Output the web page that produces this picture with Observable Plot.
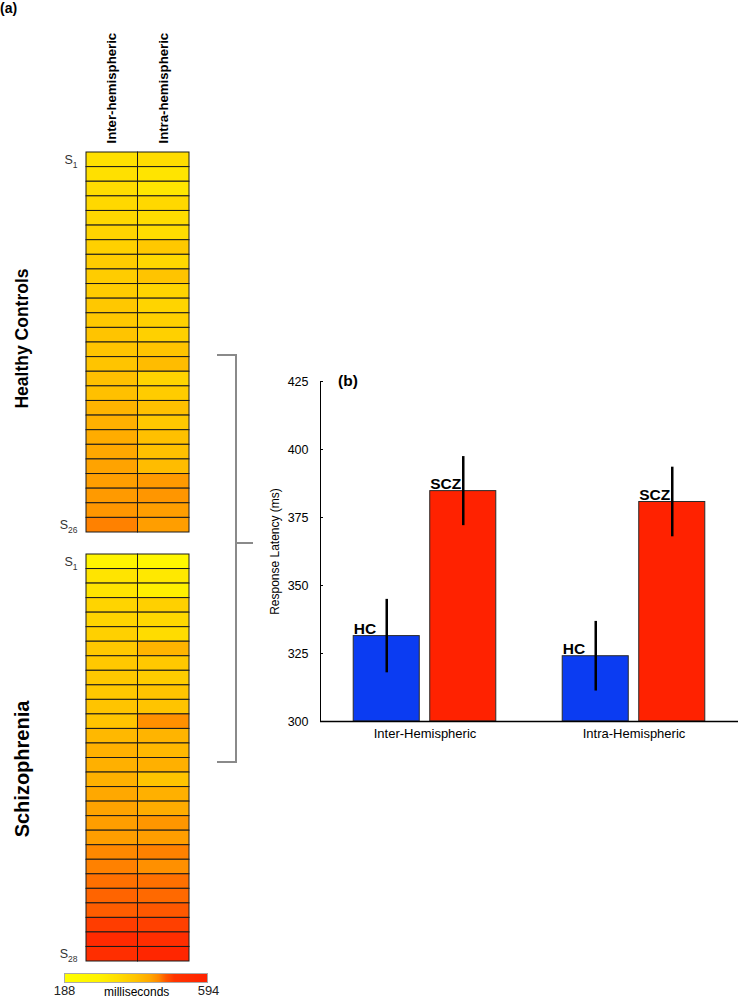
<!DOCTYPE html>
<html><head><meta charset="utf-8">
<script src="https://cdn.jsdelivr.net/npm/d3@7"></script>
<script src="https://cdn.jsdelivr.net/npm/@observablehq/plot@0.6"></script>
<style>
body{margin:0;background:#fff;font-family:"Liberation Sans",Arial,sans-serif;}
#root{position:relative;width:739px;height:998px;overflow:hidden;background:#fff;}
.lbl{position:absolute;font-family:"Liberation Sans",Arial,sans-serif;color:#000;white-space:nowrap;}
.br{position:absolute;background:#8a8a8a;}
</style></head><body><div id="root"></div>
<script>
// ---------- Panel (a) data ----------
const conditionsA = ["Inter-hemispheric", "Intra-hemispheric"];
const hcInter  = [335,335,344,352,352,359,367,375,375,375,382,382,390,390,390,396,396,413,419,424,430,434,438,441,444,458];
const hcIntra  = [344,325,320,352,344,344,382,352,390,359,359,367,367,390,401,359,375,396,382,396,396,401,441,444,438,438];
const sczInter = [275,325,325,359,359,367,382,382,382,382,390,390,407,419,419,419,430,434,438,438,455,458,465,470,473,494,550,530];
const sczIntra = [250,315,295,367,352,344,413,382,375,390,390,449,413,407,419,390,419,424,444,438,458,449,465,468,475,492,530,575];
const groupLabelsA = ["Healthy Controls", "Schizophrenia"];
const colorbarTicks = [188, 594];
const colorStops = [188, 290, 340, 390, 430, 455, 475, 500, 594];
const colorStopColors = ["#ffff00","#fff200","#ffde00","#ffc400","#ffa800","#ff8800","#ff5800","#ff3400","#ff2200"];

// ---------- Panel (b) data ----------
const conditionsB = ["Inter-Hemispheric", "Intra-Hemispheric"];
const groups = ["HC", "SCZ"];
const groupColors = ["#0b3cf2", "#ff2200"];
const hcMeans = [331.4, 324.0];
const sczMeans = [384.7, 380.7];
const hcErr = [13.5, 12.8];
const sczErr = [12.7, 12.8];
const yDomain = [300, 425];
const yTicks = [300, 325, 350, 375, 400, 425];

const FONT = "Liberation Sans, Arial, sans-serif";
const root = document.getElementById("root");

const stopScale = d3.scaleLinear().domain(colorStops).range(colorStopColors).interpolate(d3.interpolateRgb).clamp(true);
const colorOpts = {
  type: "linear",
  domain: [colorbarTicks[0], colorbarTicks[1]],
  interpolate: t => stopScale(colorbarTicks[0] + t * (colorbarTicks[1] - colorbarTicks[0]))
};

function place(el, left, top) {
  el.style.position = "absolute";
  el.style.left = left + "px";
  el.style.top = top + "px";
  el.style.maxWidth = "none";
  root.appendChild(el);
  return el;
}

function subscriptify(svg) {
  svg.querySelectorAll("text").forEach(t => {
    const m = /^S_(\d+)$/.exec(t.textContent);
    if (!m) return;
    t.textContent = "";
    const ns = "http://www.w3.org/2000/svg";
    const a = document.createElementNS(ns, "tspan"); a.textContent = "S";
    const b = document.createElementNS(ns, "tspan"); b.textContent = m[1];
    b.setAttribute("dy", "4"); b.setAttribute("font-size", "8.5");
    t.appendChild(a); t.appendChild(b);
  });
}

function heat(inter, intra, label, opts) {
  const n = inter.length;
  const ids = inter.map((_, i) => "S_" + (i + 1));
  const rows = ids.flatMap((id, i) => [
    {s: id, c: conditionsA[0], v: inter[i]},
    {s: id, c: conditionsA[1], v: intra[i]}
  ]);
  const marks = [
    Plot.cell(rows, {x: "c", y: "s", fill: "v", stroke: "#1a1a1a", strokeWidth: 1, inset: 0}),
    Plot.axisY({ticks: [ids[0], ids[n - 1]], tickSize: 0, tickPadding: 9, fontSize: 12.5, color: "#333", label: null}),
    Plot.text([label], {frameAnchor: "left", textAnchor: "middle", rotate: -90, dx: -64, dy: opts.labelDy, fontSize: opts.labelSize, fontWeight: "bold", fill: "#000"})
  ];
  if (opts.showX) marks.push(Plot.axisX({anchor: "top", tickRotate: -90, tickSize: 0, tickPadding: 9, fontSize: 13.2, fontWeight: "bold", label: null, color: "#000"}));
  const svg = Plot.plot({
    width: 200, height: opts.height,
    marginLeft: 86, marginRight: 11, marginTop: opts.top, marginBottom: opts.bottom,
    style: {fontFamily: FONT, overflow: "visible", background: "transparent"},
    x: {domain: conditionsA, padding: 0, round: false, axis: null},
    y: {domain: ids, padding: 0, round: false, axis: null},
    color: colorOpts,
    marks
  });
  subscriptify(svg);
  return svg;
}

// HC heatmap: cells 152..532
place(heat(hcInter, hcIntra, groupLabelsA[0], {height: 534, top: 152, bottom: 2, showX: true, labelDy: -4, labelSize: 17.5}), 0, 0);
// SCZ heatmap: cells 554..961
place(heat(sczInter, sczIntra, groupLabelsA[1], {height: 425, top: 14, bottom: 4, showX: false, labelDy: 11, labelSize: 20}), 0, 540);

// colour bar
const leg = Plot.legend({
  color: colorOpts, width: 150, height: 26, marginLeft: 3, marginRight: 3, marginTop: 0, marginBottom: 16,
  ticks: colorbarTicks, tickSize: 0, label: null,
  style: {fontFamily: FONT, fontSize: "13px", color: "#222", background: "transparent"}
});
leg.querySelectorAll("line").forEach(l => l.setAttribute("stroke", "none"));
place(leg, 61, 973);
const cbBorder = document.createElement("div");
cbBorder.style.cssText = "position:absolute;left:64px;top:973px;width:144px;height:10px;box-sizing:border-box;border:1px solid #aaa;";
root.appendChild(cbBorder);
const ms = document.createElement("div");
ms.className = "lbl"; ms.textContent = "milliseconds";
ms.style.cssText += "left:104px;top:985px;font-size:12px;";
root.appendChild(ms);

// (a) label
const la = document.createElement("div");
la.className = "lbl"; la.textContent = "(a)";
la.style.cssText += "left:0px;top:0px;font-size:14px;font-weight:bold;";
root.appendChild(la);

// bracket
["left:235px;top:354px;width:1.5px;height:409px;",
 "left:217px;top:354px;width:19px;height:1.5px;",
 "left:217px;top:761px;width:19px;height:1.5px;",
 "left:235px;top:542px;width:18px;height:1.5px;"].forEach(css => {
  const d = document.createElement("div"); d.className = "br"; d.style.cssText += css; root.appendChild(d);
});

// ---------- Panel (b) ----------
const bars = conditionsB.flatMap((c, i) => [
  {c, g: groups[0], m: hcMeans[i], e: hcErr[i]},
  {c, g: groups[1], m: sczMeans[i], e: sczErr[i]}
]);
const bar = Plot.plot({
  width: 479, height: 391, marginLeft: 60, marginRight: 1, marginTop: 21, marginBottom: 30,
  style: {fontFamily: FONT, fontSize: "12.5px", overflow: "visible", background: "transparent", color: "#000"},
  fx: {domain: conditionsB, paddingInner: 0, paddingOuter: 0, round: false, axis: "bottom", tickSize: 0, tickPadding: 7, label: null},
  x: {domain: groups, paddingInner: 0.137, paddingOuter: 0.434, round: false, axis: null},
  y: {domain: yDomain, axis: "left", ticks: yTicks, tickSize: -3, tickPadding: 15, line: true,
      label: "Response Latency (ms)", labelAnchor: "center", labelOffset: 50, labelArrow: "none"},
  color: {domain: groups, range: groupColors},
  marks: [
    Plot.barY(bars, {fx: "c", x: "g", y1: yDomain[0], y2: "m", fill: "g", stroke: "#2a2a2a", strokeWidth: 1}),
    Plot.ruleX(bars, {fx: "c", x: "g", y1: d => d.m - d.e, y2: d => d.m + d.e, stroke: "#000", strokeWidth: 2.5}),
    Plot.text(bars, {fx: "c", x: "g", y: "m", text: "g", textAnchor: "start", lineAnchor: "bottom", dx: -33, dy: -2, fontSize: 15.5, fontWeight: "bold", fill: "#000"}),
    Plot.ruleY([yDomain[0]], {stroke: "#000", strokeWidth: 1.3})
  ]
});
bar.querySelectorAll('[aria-label="y-axis label"] text, [aria-label="y-axis label"]').forEach(el => el.setAttribute("font-size", "12"));
bar.querySelectorAll('[aria-label="fx-axis tick label"]').forEach(el => el.setAttribute("font-size", "13"));
place(bar, 260, 360);

const lb = document.createElement("div");
lb.className = "lbl"; lb.textContent = "(b)";
lb.style.cssText += "left:338px;top:372px;font-size:15.5px;font-weight:bold;";
root.appendChild(lb);
</script>
</body></html>
